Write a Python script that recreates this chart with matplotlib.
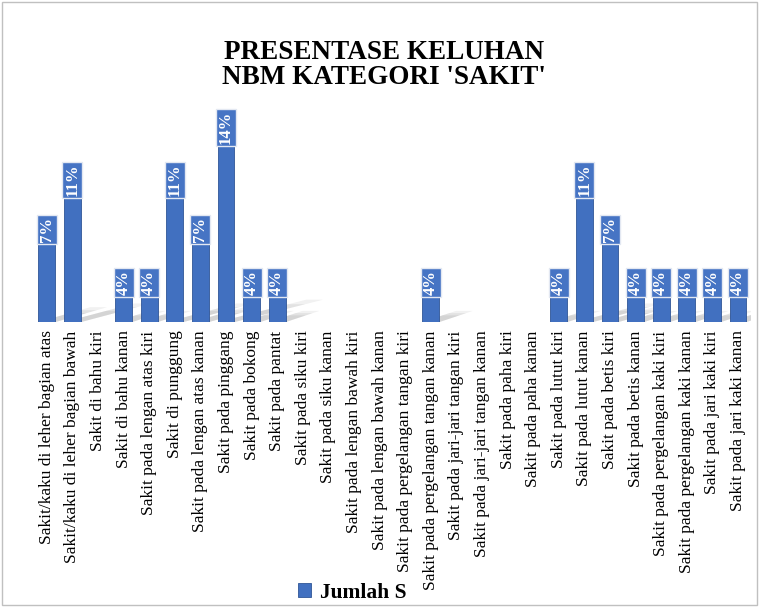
import matplotlib
matplotlib.use("Agg")
import matplotlib.pyplot as plt
from matplotlib.patches import Polygon, Rectangle

categories = [
    "Sakit/kaku di leher bagian atas", "Sakit/kaku di leher bagian bawah",
    "Sakit di bahu kiri", "Sakit di bahu kanan", "Sakit pada lengan atas kiri",
    "Sakit di punggung", "Sakit pada lengan atas kanan", "Sakit pada pinggang",
    "Sakit pada bokong", "Sakit pada pantat", "Sakit pada siku kiri",
    "Sakit pada siku kanan", "Sakit pada lengan bawah kiri",
    "Sakit pada lengan bawah kanan", "Sakit pada pergelangan tangan kiri",
    "Sakit pada pergelangan tangan kanan", "Sakit pada jari-jari tangan kiri",
    "Sakit pada jari-jari tangan kanan", "Sakit pada paha kiri",
    "Sakit pada paha kanan", "Sakit pada lutut kiri", "Sakit pada lutut kanan",
    "Sakit pada betis kiri", "Sakit pada betis kanan",
    "Sakit pada pergelangan kaki kiri", "Sakit pada pergelangan kaki kanan",
    "Sakit pada jari kaki kiri", "Sakit pada jari kaki kanan",
]
# percentages (bar heights are in 1:2:3:4 ratio, i.e. counts out of 28)
values = [7.14, 10.71, 0, 3.57, 3.57, 10.71, 7.14, 14.29, 3.57, 3.57, 0, 0, 0, 0,
          0, 3.57, 0, 0, 0, 0, 3.57, 10.71, 7.14, 3.57, 3.57, 3.57, 3.57, 3.57]

serif = ["Liberation Serif", "DejaVu Serif"]
plt.rcParams["font.family"] = serif

fig = plt.figure(figsize=(7.63, 6.10), dpi=100)
ax = fig.add_axes([0.0446, 0.472, 0.9394, 0.364])

x = list(range(len(values)))
w = 0.66

# soft floor shadows (layered for a blurred look)
for xi, v in zip(x, values):
    if v > 0:
        dx = 0.2 * v + 0.6
        dy = 0.07 * v + 0.5
        for k, a in [(1.0, 0.12), (0.8, 0.14), (0.6, 0.16)]:
            shadow = Polygon([(xi - w / 2, 0), (xi + w / 2, 0),
                              (xi + w / 2 + dx * k, dy * k),
                              (xi - w / 2 + dx * k, dy * k)],
                             closed=True, facecolor="#8c8c8c", alpha=a,
                             edgecolor="none", zorder=1)
            ax.add_patch(shadow)

bars = ax.bar(x, values, width=w, color="#4170C0", edgecolor="#2F5597",
              linewidth=0.6, zorder=2, label="Jumlah S")

for xi, v in zip(x, values):
    if v > 0:
        ax.text(xi, v - 0.1, f"{v:.0f}%", rotation=90, ha="center", va="top",
                color="white", fontsize=12, fontweight="bold", zorder=4,
                bbox=dict(boxstyle="square,pad=0.12", facecolor="#4674C4",
                          edgecolor="#E3E8F2", linewidth=1.0))

ax.set_xlim(-0.5, len(values) - 0.5)
ax.set_ylim(0, 14.9)
ax.set_xticks(x)
ax.set_xticklabels(categories, rotation=90, fontsize=12.5)
ax.tick_params(axis="x", length=0, pad=6)
ax.set_yticks([])
for s in ax.spines.values():
    s.set_visible(False)

fig.text(0.503, 0.894, "PRESENTASE KELUHAN\nNBM KATEGORI 'SAKIT'", ha="center",
         va="center", fontsize=19.5, fontweight="bold", linespacing=1.0)

fig.legend(handles=[bars], labels=["Jumlah S"], loc="center",
           bbox_to_anchor=(0.462, 0.028), frameon=False, handlelength=0.6,
           handleheight=0.6, handletextpad=0.4,
           prop={"family": serif, "size": 15.5, "weight": "bold"})

fig.add_artist(Rectangle((0.002, 0.008), 0.99, 0.988, transform=fig.transFigure,
                         fill=False, edgecolor="#c0c0c0", linewidth=1.0))

fig.savefig("out.png", dpi=100)
